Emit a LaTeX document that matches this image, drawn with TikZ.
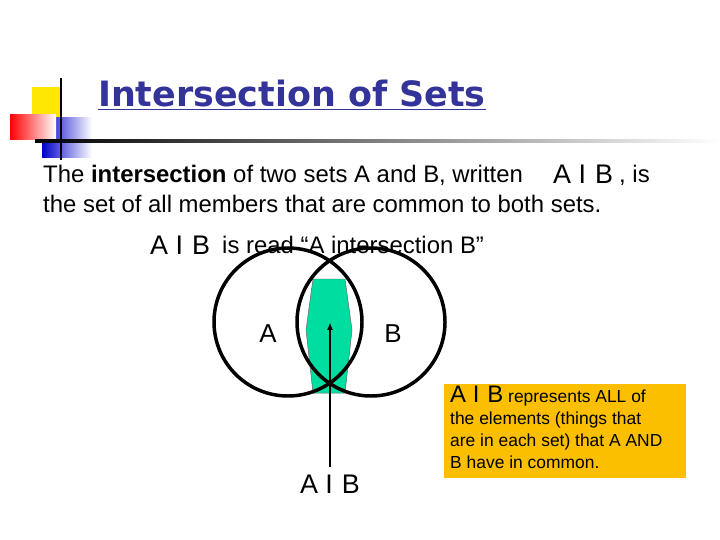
\documentclass[tikz,border=0pt]{standalone}
\usepackage{fontspec}
\setmainfont{Liberation Sans}
\newfontfamily\titlefont{DejaVu Sans}
\usetikzlibrary{shadings,arrows.meta}
\definecolor{tblue}{HTML}{333399}
\definecolor{boxor}{HTML}{FBBF00}
\definecolor{lens}{HTML}{00DDA0}
\tikzset{setcirc/.style={draw=black,line width=3.5pt},
 body/.style={anchor=base west,inner sep=0pt,font=\fontsize{24}{28}\selectfont},
 inter/.style={inner sep=0pt,font=\fontsize{27}{28}\selectfont}}
\begin{document}
\begin{tikzpicture}[x=1bp,y=-1bp]
\useasboundingbox (0,0) rectangle (720,540);
\fill[white] (0,0) rectangle (720,540);
% decoration
\fill[yellow!90!orange] (32,87) rectangle (62,120);
\shade[left color=blue!80!black,right color=white] (42,118) rectangle (92,158);
\shade[left color=red,right color=white] (10,115) rectangle (56,140);
\shade[left color=black,right color=white] (35,140) rectangle (720,142.5);
\draw[line width=1.5pt] (61,78) -- (61,160);
% title
\node[anchor=base west,inner sep=0pt,text=tblue,font=\titlefont\bfseries\fontsize{35}{38}\selectfont] (title) at (98,107) {\underline{Intersection of Sets}};
% text
\node[body] (l1) at (43,183) {The \textbf{intersection} of two sets A and B, written};
\node[inter,anchor=base west] (s1) at (553,184) {A I\,\,B};
\node[body] (l1b) at (619,183) {, is};
\node[body] (l2) at (43,213) {the set of all members that are common to both sets.};
\node[inter,anchor=base west] (s2) at (150,255) {A I\,\,B};
\node[body] (l3) at (222,254) {is read “A intersection B”};
% venn
\fill[lens,draw=black!60,line width=0.5pt] (313,279) -- (345,279) -- (352,330) -- (345,393) -- (313,393) -- (306,330) -- cycle;
\draw[setcirc] (288,322) circle (74);
\draw[setcirc] (371,322) circle (74);
\node[font=\fontsize{26}{28}\selectfont] (A) at (268,334) {A};
\node[font=\fontsize{26}{28}\selectfont] (B) at (393,334) {B};
\node[inter] (s3) at (330,484) {A I\,\,B};
\coordinate (tip) at (330,322);
\draw[line width=2pt,-{Latex[length=8pt,width=6pt]}] (s3.north) ++(0,-8) -- (tip);
% box
\node[fill=boxor,anchor=north west,minimum width=242bp,minimum height=94bp,inner sep=0pt] (box) at (444,384) {};
\node[anchor=north west,inner sep=0pt,align=left,font=\fontsize{17.5}{22}\selectfont] (boxtxt) at (450,386)
 {{\fontsize{24}{22}\selectfont A I\,\,B} represents ALL of\\the elements (things that\\are in each set) that A AND\\B have in common.};
\end{tikzpicture}
\end{document}
